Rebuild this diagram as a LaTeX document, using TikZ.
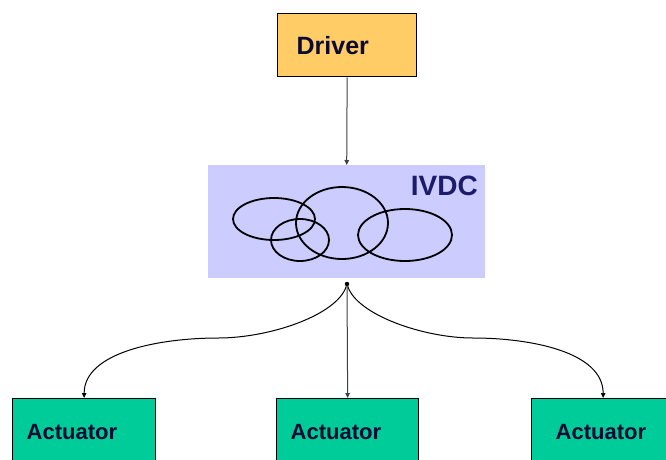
\documentclass[tikz,border=0pt]{standalone}
\usepackage{fontspec}
\setmainfont{Liberation Sans}
\usetikzlibrary{arrows.meta}

\definecolor{drvfill}{HTML}{FFCC66}
\definecolor{actfill}{HTML}{00CC99}
\definecolor{netfill}{HTML}{CCCCFF}
\definecolor{txtdark}{HTML}{0A0A33}
\definecolor{netlabel}{HTML}{1C1C6B}
\definecolor{wire}{HTML}{404040}

\tikzset{
  box/.style={draw=black, line width=1.3pt, anchor=north west, align=left,
              inner ysep=0pt, font=\bfseries, text=txtdark},
  drvbox/.style={box, fill=drvfill, minimum height=63pt, inner xsep=19pt,
                 text width=101pt, font=\bfseries\fontsize{25}{25}\selectfont},
  actbox/.style={box, fill=actfill, minimum height=66pt,
                 font=\bfseries\fontsize{22}{22}\selectfont},
  tip/.style={-{Triangle[length=5pt,width=4.5pt]}},
  straightwire/.style={tip, draw=wire, line width=1pt},
  curvewire/.style={tip, draw=black, line width=1pt},
  loop/.style={draw=black, line width=1.8pt}
}

\begin{document}
\begin{tikzpicture}[x=1pt, y=-1pt]
  \useasboundingbox (0,0) rectangle (666,459);
  \clip (0,0) rectangle (666,459);

  % driver at the top
  \node[drvbox] (driver) at (277,13) {Driver};

  % vehicle dynamics controller block
  \node[fill=netfill, anchor=north west, minimum width=277pt,
        minimum height=113pt, inner sep=0pt] (ivdc) at (208,165) {};
  \node[anchor=east, inner sep=0pt, text=netlabel,
        font=\bfseries\fontsize{28}{28}\selectfont] (ivdctext) at (478,186) {IVDC};

  % interlocking loops inside the controller
  \draw[loop] (274,219) ellipse [x radius=41pt, y radius=21pt];
  \draw[loop] (342,223) ellipse [x radius=46pt, y radius=36pt];
  \draw[loop] (300,240) ellipse [x radius=29pt, y radius=21pt];
  \draw[loop] (405,235) ellipse [x radius=47pt, y radius=26pt];

  % branching point below the controller
  \node[circle, fill=black, inner sep=0pt, minimum size=4.5pt] (hub) at (347,284) {};

  % actuators along the bottom
  \node[actbox, inner xsep=14pt, text width=115pt] (act1) at (12,398) {Actuator};
  \node[actbox, inner xsep=14pt, text width=114pt] (act2) at (276,398) {Actuator};
  \node[actbox, inner xsep=24pt, text width=95pt]  (act3) at (531,398) {Actuator};

  % connectors
  \draw[straightwire] (driver.south) -- (ivdc.north);
  \draw[straightwire] (hub) -- (act2.north);
  \draw[curvewire] (hub) .. controls (337,315) and (270,338) .. (218,338)
                         .. controls (160,338) and (act1.north |- 0,352) .. (act1.north);
  \draw[curvewire] (hub) .. controls (357,315) and (424,338) .. (473,338)
                         .. controls (531,338) and (act3.north |- 0,352) .. (act3.north);
\end{tikzpicture}
\end{document}
